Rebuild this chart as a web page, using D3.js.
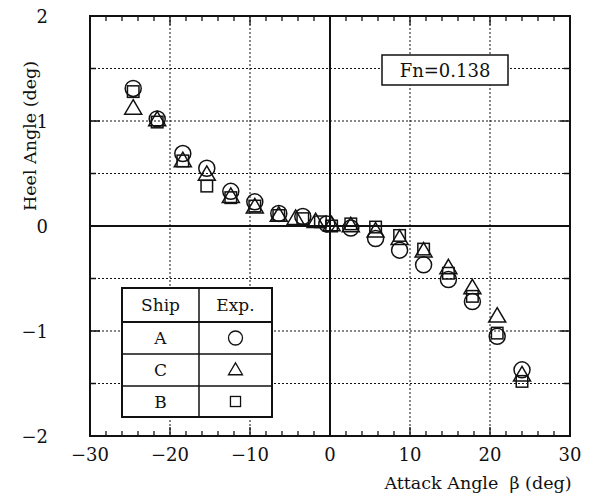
<!DOCTYPE html>
<html>
<head>
<meta charset="utf-8">
<script src="https://cdn.jsdelivr.net/npm/d3@7"></script>
<style>
  body { margin: 0; background: #fff; }
  text { font-family: "DejaVu Serif", serif; fill: #111; }
</style>
</head>
<body>
<svg width="600" height="497"></svg>
<script>
// data
var xTicks = [-30, -20, -10, 0, 10, 20, 30];
var yTicks = [-2, -1, 0, 1, 2];

var shipA_x = [-24.6, -21.6, -18.4, -15.4, -12.4, -9.4, -6.4, -3.4, -0.4, 2.6, 5.7, 8.7, 11.7, 14.8, 17.8, 20.9, 24.0];
var shipA_y = [1.31, 1.02, 0.69, 0.55, 0.33, 0.23, 0.12, 0.09, 0.02, -0.02, -0.12, -0.23, -0.37, -0.51, -0.72, -1.05, -1.37];

var shipC_x = [-24.6, -21.6, -18.4, -15.4, -12.4, -9.4, -6.4, -4.3, -1.8, 0.2, 2.6, 5.7, 8.7, 11.7, 14.8, 17.8, 20.9, 24.0];
var shipC_y = [1.12, 1.01, 0.62, 0.49, 0.28, 0.18, 0.10, 0.07, 0.04, 0.01, 0.00, -0.05, -0.12, -0.24, -0.40, -0.59, -0.86, -1.42];

var shipB_x = [-24.6, -21.6, -18.4, -15.4, -12.4, -9.4, -6.4, -3.4, -1.2, 0.2, 2.6, 5.7, 8.7, 11.7, 14.8, 17.8, 20.9, 24.0];
var shipB_y = [1.28, 0.99, 0.62, 0.38, 0.27, 0.19, 0.10, 0.07, 0.04, 0.00, 0.02, -0.01, -0.09, -0.22, -0.45, -0.67, -1.02, -1.48];

var legendShips = ["A", "C", "B"];
var legendMarks = ["circle", "triangle", "square"];

var pL = 90, pR = 570, pT = 16, pB = 436;
var svg = d3.select("svg");

var x = d3.scaleLinear().domain([-30, 30]).range([pL, pR]);
var y = d3.scaleLinear().domain([-2, 2]).range([pB, pT]);

// dotted grid
var grid = svg.append("g").attr("stroke", "#111").attr("stroke-width", 1).attr("stroke-dasharray", "2,2");
[-20, -10, 10, 20].forEach(function(v){
  grid.append("line").attr("x1", x(v)).attr("x2", x(v)).attr("y1", pT).attr("y2", pB);
});
[-1.5, -1, -0.5, 0.5, 1, 1.5].forEach(function(v){
  grid.append("line").attr("x1", pL).attr("x2", pR).attr("y1", y(v)).attr("y2", y(v));
});

// zero lines
svg.append("line").attr("x1", x(0)).attr("x2", x(0)).attr("y1", pT).attr("y2", pB)
  .attr("stroke", "#111").attr("stroke-width", 2);
svg.append("line").attr("x1", pL).attr("x2", pR).attr("y1", y(0)).attr("y2", y(0))
  .attr("stroke", "#111").attr("stroke-width", 2.2);

// axes with inward ticks
var minorX = d3.range(-30, 31, 2);
var ax = svg.append("g").attr("stroke", "#111");
minorX.forEach(function(v){
  var len = (v % 10 === 0) ? 9 : 5;
  ax.append("line").attr("x1", x(v)).attr("x2", x(v)).attr("y1", pB).attr("y2", pB - len).attr("stroke-width", 1.3);
  ax.append("line").attr("x1", x(v)).attr("x2", x(v)).attr("y1", pT).attr("y2", pT + len).attr("stroke-width", 1.3);
});
d3.range(-2, 2.01, 0.5).forEach(function(v){
  var len = (v % 1 === 0) ? 10 : 6;
  ax.append("line").attr("x1", pL).attr("x2", pL + len).attr("y1", y(v)).attr("y2", y(v)).attr("stroke-width", 1.5);
  ax.append("line").attr("x1", pR).attr("x2", pR - len).attr("y1", y(v)).attr("y2", y(v)).attr("stroke-width", 1.5);
});

svg.append("rect").attr("x", pL).attr("y", pT).attr("width", pR - pL).attr("height", pB - pT)
  .attr("fill", "none").attr("stroke", "#111").attr("stroke-width", 2);

// tick labels
function fmt(v){ return v < 0 ? "\u2212" + Math.abs(v) : String(v); }
svg.append("g").selectAll("text").data(xTicks).join("text")
  .attr("x", function(d){ return x(d); }).attr("y", pB + 25)
  .attr("text-anchor", "middle").attr("font-size", 18).text(fmt);
svg.append("g").selectAll("text").data(yTicks).join("text")
  .attr("x", pL - 42).attr("y", function(d){ return y(d) + 7; })
  .attr("text-anchor", "end").attr("font-size", 18).text(fmt);

// axis titles
svg.append("text").attr("x", 478).attr("y", 489).attr("text-anchor", "middle")
  .attr("font-size", 17.5).text("Attack Angle\u00a0\u00a0\u03b2 (deg)");
svg.append("text").attr("transform", "translate(36,136) rotate(-90)").attr("text-anchor", "middle")
  .attr("font-size", 17.5).text("Heel Angle (deg)");

// markers
function drawMark(g, kind, cx, cy, s){
  if(kind === "circle"){
    g.append("circle").attr("cx", cx).attr("cy", cy).attr("r", s * 0.5);
  } else if(kind === "triangle"){
    var h = s * 0.85;
    g.append("path").attr("d", "M" + cx + "," + (cy - h * 0.6) + "L" + (cx + s * 0.5) + "," + (cy + h * 0.4) + "L" + (cx - s * 0.5) + "," + (cy + h * 0.4) + "Z");
  } else {
    var q = s * 0.72;
    g.append("rect").attr("x", cx - q / 2).attr("y", cy - q / 2).attr("width", q).attr("height", q);
  }
}
var marks = svg.append("g").attr("fill", "none").attr("stroke", "#111").attr("stroke-width", 1.5);
shipA_x.forEach(function(v, i){ drawMark(marks, "circle", x(v), y(shipA_y[i]), 16); });
shipC_x.forEach(function(v, i){ drawMark(marks, "triangle", x(v), y(shipC_y[i]), 17); });
shipB_x.forEach(function(v, i){ drawMark(marks, "square", x(v), y(shipB_y[i]), 16); });

// Fn box
svg.append("rect").attr("x", 382).attr("y", 55).attr("width", 126).attr("height", 30)
  .attr("fill", "#fff").attr("stroke", "#111").attr("stroke-width", 1.5);
svg.append("text").attr("x", 445).attr("y", 77).attr("text-anchor", "middle").attr("font-size", 18).text("Fn=0.138");

// legend table
var tx = 122, tw = 150, c1 = 77, ty = 288, rh = [34, 32, 32, 31];
var tbl = svg.append("g");
tbl.append("rect").attr("x", tx).attr("y", ty).attr("width", tw).attr("height", d3.sum(rh))
  .attr("fill", "#fff").attr("stroke", "#111").attr("stroke-width", 2);
tbl.append("line").attr("x1", tx + c1).attr("x2", tx + c1).attr("y1", ty).attr("y2", ty + d3.sum(rh))
  .attr("stroke", "#111").attr("stroke-width", 1.5);
var yy = ty;
rh.forEach(function(h, i){
  if(i > 0) tbl.append("line").attr("x1", tx).attr("x2", tx + tw).attr("y1", yy).attr("y2", yy)
    .attr("stroke", "#111").attr("stroke-width", i === 1 ? 2 : 1.5);
  yy += h;
});
tbl.append("text").attr("x", tx + c1 / 2).attr("y", ty + 23).attr("text-anchor", "middle").attr("font-size", 17).text("Ship");
tbl.append("text").attr("x", tx + c1 + (tw - c1) / 2).attr("y", ty + 23).attr("text-anchor", "middle").attr("font-size", 17).text("Exp.");
var lm = tbl.append("g").attr("fill", "none").attr("stroke", "#111").attr("stroke-width", 1.3);
var ry = ty + rh[0];
legendShips.forEach(function(s, i){
  var cy = ry + rh[i + 1] / 2;
  tbl.append("text").attr("x", tx + c1 / 2).attr("y", cy + 6).attr("text-anchor", "middle").attr("font-size", 17).text(s);
  drawMark(lm, legendMarks[i], tx + c1 + (tw - c1) / 2, cy, 14);
  ry += rh[i + 1];
});
</script>
</body>
</html>
